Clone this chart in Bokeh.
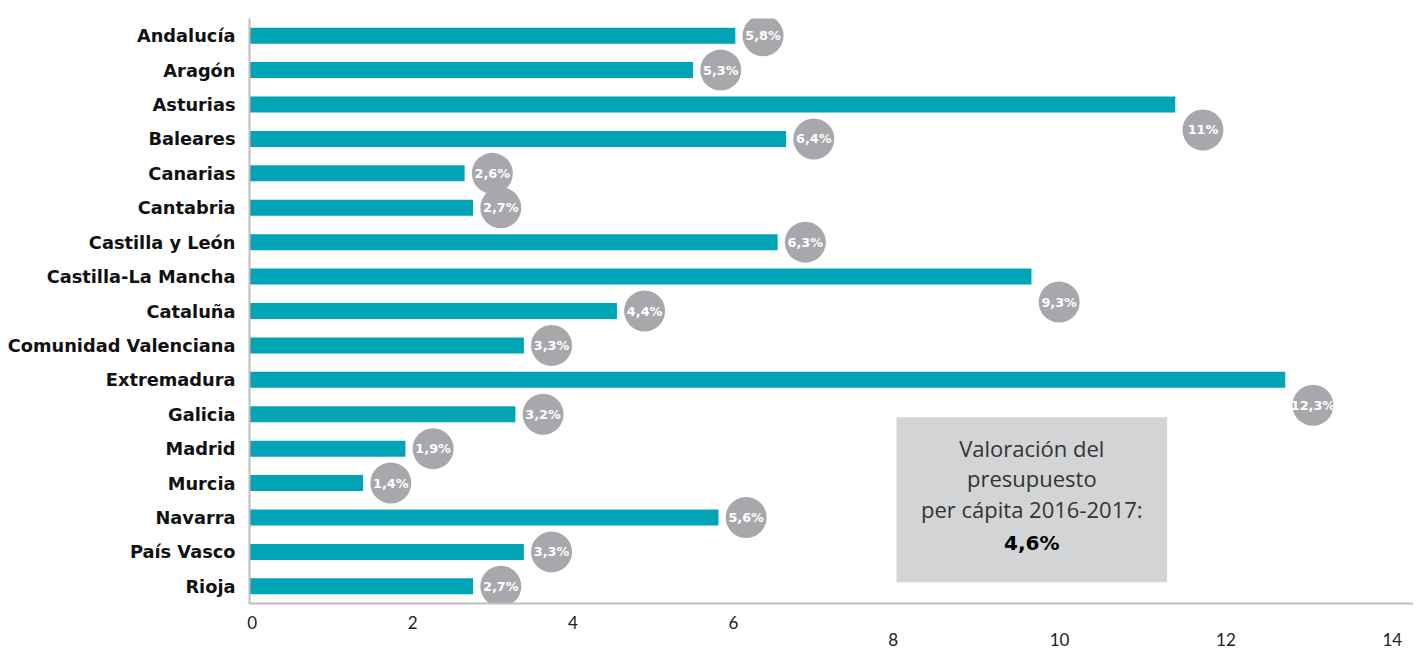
from bokeh.plotting import figure
from bokeh.models import (FactorRange, Range1d, LinearAxis, FixedTicker,
                          ColumnDataSource, BoxAnnotation, Label)
from bokeh.core.properties import value
from bokeh.embed import file_html
from bokeh.resources import INLINE

# ---------------- data ----------------
regions = ["Andalucía", "Aragón", "Asturias", "Baleares", "Canarias", "Cantabria",
           "Castilla y León", "Castilla-La Mancha", "Cataluña", "Comunidad Valenciana",
           "Extremadura", "Galicia", "Madrid", "Murcia", "Navarra", "País Vasco", "Rioja"]
values = [5.8, 5.3, 11, 6.4, 2.6, 2.7, 6.3, 9.3, 4.4, 3.3, 12.3, 3.2, 1.9, 1.4, 5.6, 3.3, 2.7]
average_value = 4.6
ticks_row1 = [0, 2, 4, 6]
ticks_row2 = [8, 10, 12, 14]
box_lines = ["Valoración del", "presupuesto", "per cápita 2016-2017:"]

# ---------------- layout constants ----------------
W, H = 1413, 648
FRAME_LEFT, FRAME_TOP, FRAME_BOTTOM = 249, 18, 603
FRAME_W = W - FRAME_LEFT
X_START, X_END = 0.057, 13.816
PPU = FRAME_W / (X_END - X_START)          # pixels per data unit
BUBBLE_DX = 27.7 / PPU                     # bubble offset from bar end
LOWER_DY = 0.74                            # bubbles of long bars sit lower

TEAL = "#00a4b4"
BUBBLE = "#a8a8ac"
AXIS = "#bdbdbd"


def fmt(v):
    return f"{v:g}".replace(".", ",") + "%"


n = len(regions)
bub_x, bub_y = [], []
for i, v in enumerate(values):
    center = (n - 1 - i) + 0.5
    bub_x.append(v + BUBBLE_DX)
    bub_y.append(center - LOWER_DY if v >= 9 else center)

bars = ColumnDataSource(dict(region=regions, value=values))
bubbles = ColumnDataSource(dict(x=bub_x, y=bub_y, label=[fmt(v) for v in values]))

p = figure(width=W, height=H, output_backend="svg", toolbar_location=None,
           y_range=FactorRange(factors=regions[::-1]),
           x_range=Range1d(X_START, X_END), x_axis_location=None,
           min_border_left=FRAME_LEFT, min_border_right=0,
           min_border_top=FRAME_TOP, min_border_bottom=H - FRAME_BOTTOM)
p.outline_line_color = None
p.xgrid.grid_line_color = None
p.ygrid.grid_line_color = None
p.background_fill_color = "white"

p.hbar(y="region", left=0, right="value", height=0.465, source=bars,
       fill_color=TEAL, line_color=None)

p.scatter(x="x", y="y", source=bubbles, marker="circle", size=41,
          fill_color=BUBBLE, line_color=None)
p.text(x="x", y="y", text="label", source=bubbles, text_align="center",
       text_baseline="middle", text_color="white",
       text_font=value("DejaVu Sans"), text_font_style="bold",
       text_font_size="12.8px")

# y axis (categories)
ya = p.yaxis[0]
ya.major_label_text_font = "DejaVu Sans"
ya.major_label_text_font_style = "bold"
ya.major_label_text_font_size = "17.8px"
ya.major_label_text_color = "#111111"
ya.major_label_standoff = 14
ya.major_tick_line_color = None
ya.minor_tick_line_color = None
ya.major_tick_out = 0
ya.major_tick_in = 0
ya.axis_line_color = AXIS
ya.axis_line_width = 2

# x axis tick labels in two rows, as in the original
p.extra_x_ranges = {
    "row1": Range1d(-0.0337, 14.480),
    "row2": Range1d(0.2597, 14.255),
}
ax1 = LinearAxis(x_range_name="row1", ticker=FixedTicker(ticks=ticks_row1))
ax2 = LinearAxis(x_range_name="row2", ticker=FixedTicker(ticks=ticks_row2))
for ax, stand in ((ax1, 12), (ax2, 1)):
    ax.major_label_text_font = "Lato"
    ax.major_label_text_font_size = "17px"
    ax.major_label_text_color = "#222222"
    ax.major_label_standoff = stand
    ax.major_tick_line_color = None
    ax.minor_tick_line_color = None
    ax.major_tick_out = 0
    ax.major_tick_in = 0
ax1.axis_line_color = AXIS
ax1.axis_line_width = 2
ax2.axis_line_color = None
p.add_layout(ax1, "below")
p.add_layout(ax2, "below")

# annotation box
p.add_layout(BoxAnnotation(left=7.705, right=10.904, bottom=0.619, top=5.414,
                           fill_color="#d3d4d6", fill_alpha=1.0, line_color=None))
BOX_CX = 9.304
for txt, yb in zip(box_lines, [4.53, 3.645, 2.76]):
    p.add_layout(Label(x=BOX_CX, y=yb, text=txt, text_align="center",
                       text_baseline="alphabetic", text_font="Open Sans",
                       text_font_size="22px", text_color="#333333"))
p.add_layout(Label(x=BOX_CX, y=1.75, text=fmt(average_value), text_align="center",
                   text_baseline="alphabetic", text_font="DejaVu Sans",
                   text_font_style="bold", text_font_size="20px",
                   text_color="#000000"))

open("out.html", "w").write(file_html(p, INLINE))
